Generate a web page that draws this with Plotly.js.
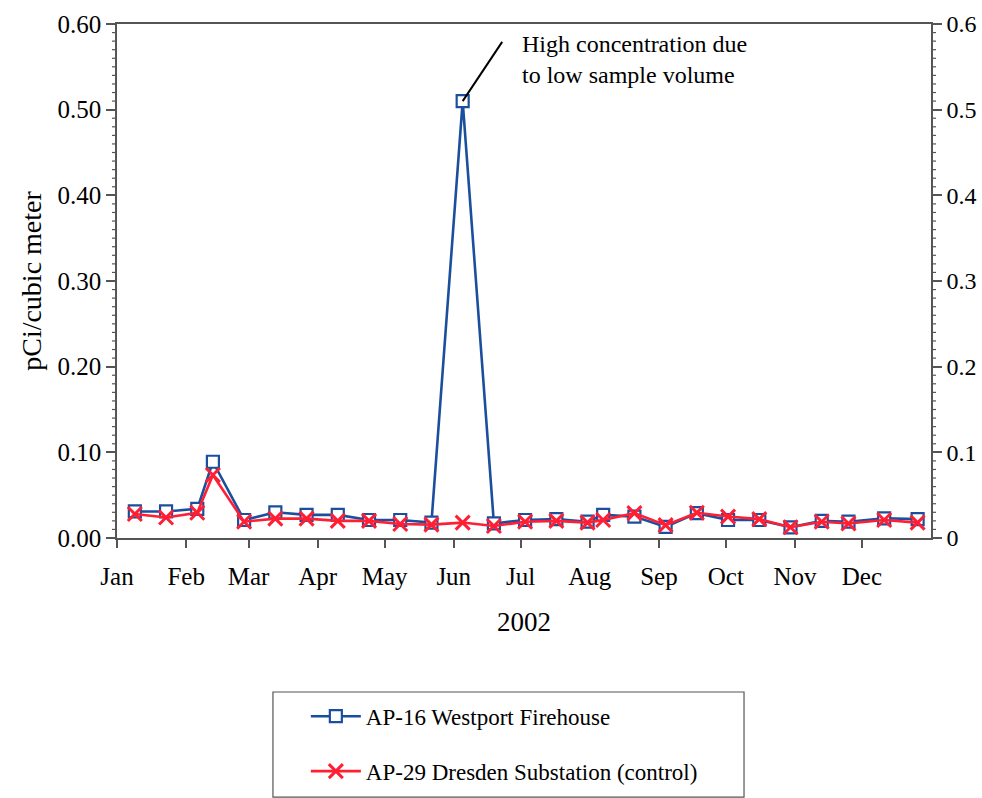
<!DOCTYPE html>
<html>
<head>
<meta charset="utf-8">
<script src="https://cdn.plot.ly/plotly-3.0.1.min.js"></script>
<style>html,body{margin:0;padding:0;background:#fff;}#chart{width:982px;height:798px;}</style>
</head>
<body>
<div id="chart"></div>
<script>
const sampleDates = ['2002-01-09','2002-01-23','2002-02-06','2002-02-13','2002-02-27','2002-03-13','2002-03-27','2002-04-10','2002-04-24','2002-05-08','2002-05-22','2002-06-05','2002-06-19','2002-07-03','2002-07-17','2002-07-31','2002-08-07','2002-08-21','2002-09-04','2002-09-18','2002-10-02','2002-10-16','2002-10-30','2002-11-13','2002-11-25','2002-12-11','2002-12-26'];
const westport = [0.031,0.031,0.034,0.089,0.021,0.030,0.027,0.027,0.021,0.021,0.018,0.510,0.017,0.021,0.022,0.019,0.027,0.025,0.013,0.029,0.021,0.021,0.0125,0.020,0.019,0.023,0.022];
const dresden = [0.028,0.024,0.0295,0.0735,0.019,0.0226,0.0226,0.020,0.020,0.0163,0.0156,0.018,0.014,0.019,0.020,0.018,0.021,0.029,0.015,0.0295,0.025,0.022,0.0125,0.019,0.017,0.021,0.018];
const monthTicks = ['2002-01-01','2002-02-01','2002-03-01','2002-04-01','2002-05-01','2002-06-01','2002-07-01','2002-08-01','2002-09-01','2002-10-01','2002-11-01','2002-12-01'];
const monthLabels = ['Jan','Feb','Mar','Apr','May','Jun','Jul','Aug','Sep','Oct','Nov','Dec'];
const seriesNames = ['AP-16 Westport Firehouse','AP-29 Dresden Substation (control)'];
const noteText = 'High concentration due<br>to low sample volume';

const FONT = 'Liberation Serif, Times New Roman, serif';
const BLUE = '#1b4f9e';
const RED = '#ff1f35';
const Y_MAX = 0.6;
const MINOR_STEP = 0.01;

const traces = [
  {
    x: sampleDates, y: westport, name: seriesNames[0], type: 'scatter', mode: 'lines+markers',
    legendgroup: 'a',
    line: {color: BLUE, width: 2.6},
    marker: {symbol: 'square', size: 12, color: '#ffffff', line: {color: BLUE, width: 2.2}}
  },
  {
    x: sampleDates, y: dresden, name: seriesNames[1], type: 'scatter', mode: 'lines+markers',
    legendgroup: 'b',
    line: {color: RED, width: 2.6},
    marker: {symbol: 'x-thin', size: 14, color: RED, line: {color: RED, width: 3}}
  },
  {x: [sampleDates[0]], y: [null], yaxis: 'y2', showlegend: false, hoverinfo: 'skip', type: 'scatter', mode: 'lines'}
];

const peakIdx = westport.indexOf(Math.max(...westport));

// minor tick marks on both value axes (axis decoration, placed on the y scale)
const minorShapes = [];
for (let i = 1; i * MINOR_STEP < Y_MAX - 1e-9; i++) {
  const v = +(i * MINOR_STEP).toFixed(4);
  if (Math.abs(v * 10 - Math.round(v * 10)) < 1e-6) continue;
  minorShapes.push({type: 'line', xref: 'paper', yref: 'y', xsizemode: 'pixel', xanchor: 0, x0: -5, x1: 0, y0: v, y1: v,
    line: {color: '#555', width: 1.2}});
  minorShapes.push({type: 'line', xref: 'paper', yref: 'y', xsizemode: 'pixel', xanchor: 1, x0: 0, x1: 5, y0: v, y1: v,
    line: {color: '#555', width: 1.2}});
}

const layout = {
  width: 982, height: 798,
  margin: {l: 117, r: 51, t: 24, b: 260, autoexpand: false},
  paper_bgcolor: '#ffffff', plot_bgcolor: '#ffffff',
  font: {family: FONT, size: 24, color: '#000'},
  showlegend: true,
  legend: {
    x: 0.232, y: -0.305, xanchor: 'left', yanchor: 'top',
    bgcolor: 'rgba(0,0,0,0)', borderwidth: 0,
    font: {family: FONT, size: 23, color: '#000'},
    traceorder: 'grouped', tracegroupgap: 22, itemwidth: 50
  },
  xaxis: {
    type: 'date', range: ['2002-01-01', '2003-01-01'],
    tickvals: monthTicks, ticktext: monthLabels,
    ticks: 'outside', ticklen: 8, tickcolor: '#555', tickwidth: 1.5,
    ticklabelstandoff: 7,
    showline: true, linecolor: '#555', linewidth: 1.5, mirror: true,
    showgrid: false, zeroline: false,
    tickfont: {family: FONT, size: 25, color: '#000'},
    title: {text: '2002', font: {family: FONT, size: 27, color: '#000'}, standoff: 23}
  },
  yaxis: {
    range: [0, Y_MAX], tickmode: 'linear', tick0: 0, dtick: 0.1, tickformat: '.2f',
    ticks: 'outside', ticklen: 9, tickcolor: '#555', tickwidth: 1.5,
    showline: true, linecolor: '#555', linewidth: 1.5,
    showgrid: false, zeroline: false,
    tickfont: {family: FONT, size: 25, color: '#000'},
    title: {text: 'pCi/cubic meter', font: {family: FONT, size: 28, color: '#000'}, standoff: 8}
  },
  yaxis2: {
    overlaying: 'y', side: 'right', anchor: 'x',
    range: [0, Y_MAX], tickmode: 'linear', tick0: 0, dtick: 0.1,
    ticks: 'outside', ticklen: 9, tickcolor: '#555', tickwidth: 1.5,
    showline: true, linecolor: '#555', linewidth: 1.5,
    showgrid: false, zeroline: false,
    tickfont: {family: FONT, size: 24, color: '#000'}
  },
  shapes: [
    {type: 'rect', xref: 'paper', yref: 'paper', x0: 0.1916, x1: 0.7703, y0: -0.504, y1: -0.2996,
     line: {color: '#555', width: 1.2}, fillcolor: 'rgba(0,0,0,0)'}
  ].concat(minorShapes),
  annotations: [
    {x: sampleDates[peakIdx], y: westport[peakIdx], xref: 'x', yref: 'y', text: ' ',
     showarrow: true, arrowhead: 0, arrowwidth: 2, arrowcolor: '#000', ax: 44, ay: -66, standoff: 0},
    {x: 0.495, y: 1.0, xref: 'paper', yref: 'paper', xanchor: 'left', yanchor: 'top', yshift: -5,
     text: noteText, showarrow: false, align: 'left',
     font: {family: FONT, size: 24, color: '#000'}}
  ]
};

Plotly.newPlot('chart', traces, layout, {displayModeBar: false, responsive: false});
</script>
</body>
</html>
